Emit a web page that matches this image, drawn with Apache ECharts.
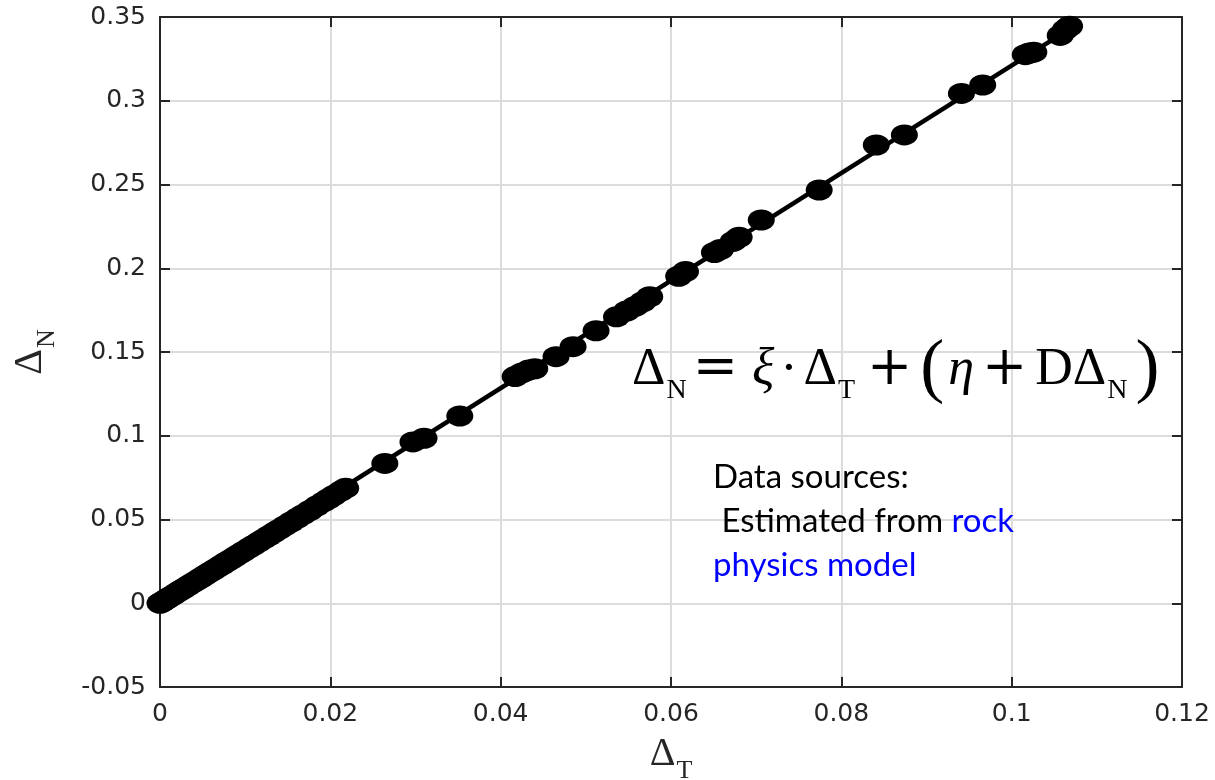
<!DOCTYPE html>
<html>
<head>
<meta charset="utf-8">
<script src="https://cdn.jsdelivr.net/npm/echarts@6/dist/echarts.min.js"></script>
<style>
  html, body { margin: 0; padding: 0; background: #fff; }
  #main { width: 1215px; height: 780px; }
</style>
</head>
<body>
<div id="main"></div>
<script>
var chart = echarts.init(document.getElementById('main'));

// estimated (Delta_T, Delta_N) pairs, dense part near the origin
var dtDense = [0, 0.0003, 0.0006, 0.0009, 0.0012, 0.0016, 0.002, 0.0024, 0.0028, 0.0033,
    0.0038, 0.0043, 0.0048, 0.0053, 0.0058, 0.0063, 0.0068, 0.0073, 0.0078, 0.0083,
    0.0088, 0.0093, 0.0098, 0.0104, 0.011, 0.0116, 0.0122, 0.0128, 0.0134, 0.014,
    0.0147, 0.0154, 0.0161, 0.0168, 0.0176, 0.0184, 0.0192, 0.0198, 0.0204, 0.0212, 0.0218];
var dnDense = [0, 0.0009, 0.0019, 0.0028, 0.0038, 0.005, 0.0063, 0.0076, 0.0088, 0.0104,
    0.012, 0.0135, 0.0151, 0.0167, 0.0183, 0.0198, 0.0214, 0.023, 0.0246, 0.0261,
    0.0277, 0.0293, 0.0309, 0.0328, 0.0346, 0.0365, 0.0384, 0.0403, 0.0422, 0.0441,
    0.0463, 0.0485, 0.0507, 0.0529, 0.0554, 0.058, 0.0605, 0.0624, 0.0643, 0.0668, 0.0687];

// sparser clusters further up the line
var dtSparse = [0.0264, 0.0297, 0.031, 0.0352, 0.0417, 0.0425, 0.0433, 0.044, 0.0465, 0.0485,
    0.0512, 0.0536, 0.0548, 0.0558, 0.0567, 0.0575, 0.0609, 0.0617, 0.0651, 0.0658,
    0.0673, 0.068, 0.0706, 0.0774, 0.0841, 0.0874, 0.0941, 0.0966, 0.1016, 0.1021,
    0.1026, 0.1057, 0.1063, 0.1068];
var dnSparse = [0.0835, 0.0963, 0.0985, 0.1118, 0.1353, 0.1375, 0.1392, 0.14, 0.1472, 0.1532,
    0.1627, 0.171, 0.1745, 0.1772, 0.18, 0.183, 0.1952, 0.198, 0.2094, 0.2112,
    0.216, 0.2185, 0.2288, 0.2467, 0.2736, 0.2796, 0.3044, 0.3094, 0.3275, 0.3285,
    0.329, 0.339, 0.3425, 0.3445];

// fitted line end points
var fitDt = [0, 0.107];
var fitDn = [0, 0.3435];

var xMin = 0, xMax = 0.12, xStep = 0.02;
var yMin = -0.05, yMax = 0.35, yStep = 0.05;

var pts = dtDense.map(function (v, i) { return [v, dnDense[i]]; })
    .concat(dtSparse.map(function (v, i) { return [v, dnSparse[i]]; }));
var fit = fitDt.map(function (v, i) { return [v, fitDn[i]]; });

var axisColor = '#262626';
var labelFont = { color: axisColor, fontSize: 25, fontFamily: 'DejaVu Sans' };

function boxAxis(pos, min, max, step, show) {
    return {
        type: 'value', position: pos, min: min, max: max, interval: step,
        axisLine: { show: true, onZero: false, lineStyle: { color: axisColor, width: 2 } },
        axisTick: { show: true, inside: true, length: 10, lineStyle: { color: axisColor, width: 2 } },
        axisLabel: Object.assign({ show: show, margin: 14 }, labelFont),
        splitLine: { show: show, lineStyle: { color: '#dcdcdc', width: 2 } }
    };
}

var xa = boxAxis('bottom', xMin, xMax, xStep, true);
xa.axisLabel.margin = 15;
var ya = boxAxis('left', yMin, yMax, yStep, true);

var serif = 'Liberation Serif';
var symb = { fontFamily: serif, fontSize: 40, fill: axisColor, lineHeight: 40 };
var symbSub = { fontFamily: serif, fontSize: 26, fill: axisColor, lineHeight: 26, padding: [34, 0, 0, 1] };

function eq(extra) {
    return Object.assign({ fontFamily: serif, fontSize: 52, fill: '#000', lineHeight: 60 }, extra || {});
}

var option = {
    backgroundColor: '#fff',
    animation: false,
    grid: { left: 160, right: 33, top: 17, bottom: 93 },
    xAxis: [xa, boxAxis('top', xMin, xMax, xStep, false)],
    yAxis: [ya, boxAxis('right', yMin, yMax, yStep, false)],
    series: [
        {
            type: 'scatter',
            data: pts,
            symbol: 'circle',
            symbolSize: [27, 21],
            itemStyle: { color: '#000', opacity: 1 }
        },
        {
            type: 'line',
            data: fit,
            showSymbol: false,
            lineStyle: { color: '#000', width: 4.5 },
            z: 3
        }
    ],
    graphic: [
        {
            type: 'text', x: 671, y: 754, z: 100,
            style: {
                text: '{d|Δ}{s|T}', align: 'center', verticalAlign: 'middle',
                rich: { d: symb, s: symbSub }
            }
        },
        {
            type: 'text', x: 30, y: 352, z: 100, rotation: Math.PI / 2,
            style: {
                text: '{d|Δ}{s|N}', align: 'center', verticalAlign: 'middle',
                rich: { d: symb, s: symbSub }
            }
        },
        {
            type: 'text', x: 632, y: 370, z: 100,
            style: {
                text: '{m|Δ}{s|N}{o|=}{i|ξ}{d|·}{m2|Δ}{s|T}{o2|+}{p|(}{i2|η}{o3|+}{m3|DΔ}{s|N}{p2|)}',
                verticalAlign: 'middle',
                rich: {
                    m: eq(),
                    m2: eq({ padding: [0, 0, 0, 6] }),
                    m3: eq({ padding: [0, 0, 0, 8] }),
                    i: eq({ fontStyle: 'italic', padding: [0, 0, 0, 8] }),
                    i2: eq({ fontStyle: 'italic', padding: [0, 0, 0, 4] }),
                    d: eq({ padding: [0, 0, 0, 6] }),
                    s: eq({ fontSize: 28, lineHeight: 28, padding: [42, 0, 0, 1] }),
                    o: eq({ fontFamily: 'DejaVu Serif', fontSize: 54, padding: [0, 6, 0, 6] }),
                    o2: eq({ fontFamily: 'DejaVu Serif', fontSize: 54, padding: [0, 0, 0, 12] }),
                    o3: eq({ fontFamily: 'DejaVu Serif', fontSize: 54, padding: [0, 0, 0, 8] }),
                    p: eq({ fontSize: 72, padding: [0, 0, 0, 8] }),
                    p2: eq({ fontSize: 72, padding: [0, 0, 0, 8] })
                }
            }
        },
        {
            type: 'text', x: 713, y: 455, z: 100,
            style: {
                text: '{k|Data sources:}\n{k| Estimated from }{b|rock}\n{b|physics model}',
                verticalAlign: 'top',
                rich: {
                    k: { fontFamily: 'Lato', fontSize: 33, fill: '#000', lineHeight: 44 },
                    b: { fontFamily: 'Lato', fontSize: 33, fill: '#0000ff', lineHeight: 44 }
                }
            }
        }
    ]
};

chart.setOption(option);

window.onresize = chart.resize;
</script>
</body>
</html>
